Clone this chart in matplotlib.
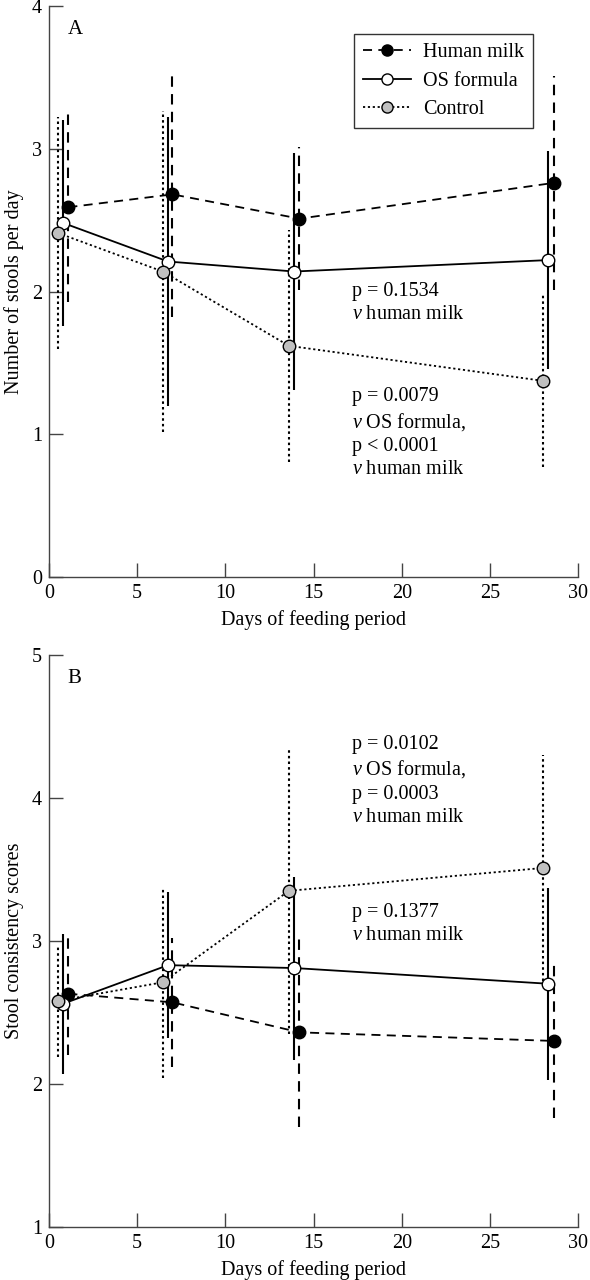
import matplotlib
matplotlib.use("Agg")
import matplotlib.pyplot as plt
from matplotlib.lines import Line2D

plt.rcParams['font.family'] = ['Liberation Serif', 'DejaVu Serif']
plt.rcParams['mathtext.fontset'] = 'custom'
plt.rcParams['mathtext.rm'] = 'Liberation Serif'
plt.rcParams['mathtext.it'] = 'Liberation Serif:italic'
plt.rcParams['font.size'] = 14.5

# datos (dias ligeramente desplazados por grupo, como en el original)
dias_hm = [1.1, 7.0, 14.2, 28.6]
dias_os = [0.8, 6.75, 13.9, 28.3]
dias_ct = [0.5, 6.45, 13.6, 28.0]

# A: numero de deposiciones por dia
a_hm = [2.59, 2.68, 2.51, 2.76]
a_hm_err = [0.66, 0.86, 0.50, 0.75]
a_os = [2.48, 2.21, 2.14, 2.22]
a_os_err = [0.72, 1.01, 0.83, 0.76]
a_ct = [2.41, 2.14, 1.62, 1.375]
a_ct_err = [0.81, 1.12, 0.81, 0.60]

# B: consistencia
b_hm = [2.63, 2.57, 2.36, 2.30]
b_hm_err = [0.43, 0.45, 0.66, 0.54]
b_os = [2.56, 2.83, 2.81, 2.70]
b_os_err = [0.49, 0.51, 0.64, 0.67]
b_ct = [2.58, 2.71, 3.35, 3.51]
b_ct_err = [0.39, 0.67, 1.00, 0.79]

etiquetas = ['Human milk', 'OS formula', 'Control']
DASH = (0, (5, 3.5))
DOT = (0, (1.2, 1.5))

fig = plt.figure(figsize=(5.9, 12.8), dpi=100)
axA = fig.add_axes([0.083, 0.549, 0.897, 0.4465])
axB = fig.add_axes([0.083, 0.0416, 0.897, 0.4467])


def grupo(ax, x, y, err, ls, fc):
    eb = ax.errorbar(x, y, yerr=err, fmt='o', linestyle=ls, color='black',
                     mfc=fc, mec='black', ms=9, mew=1.0, lw=1.3,
                     elinewidth=1.5, capsize=0)
    eb[2][0].set_linestyle(ls)
    return eb


def estilo(ax, ymin, ymax, ylab, letra):
    ax.set_xlim(0, 30)
    ax.set_ylim(ymin, ymax)
    ax.set_xticks([0, 5, 10, 15, 20, 25, 30])
    ax.set_yticks(range(ymin, ymax + 1))
    for s in ['top', 'right']:
        ax.spines[s].set_visible(False)
    for s in ['left', 'bottom']:
        ax.spines[s].set_color('#444444')
        ax.spines[s].set_linewidth(1.0)
    ax.tick_params(direction='in', length=10, width=1.0, color='#444444', pad=5)
    ax.set_xlabel('Days of feeding period', labelpad=5)
    ax.set_ylabel(ylab, labelpad=6)
    ax.text(0.035, 0.975, letra, transform=ax.transAxes, va='top', ha='left', fontsize=15)


grupo(axA, dias_hm, a_hm, a_hm_err, DASH, 'black')
grupo(axA, dias_os, a_os, a_os_err, '-', 'white')
grupo(axA, dias_ct, a_ct, a_ct_err, DOT, '#c0c0c0')
estilo(axA, 0, 4, 'Number of stools per day', 'A')

manejos = [Line2D([], [], color='black', ls=DASH, lw=1.3, marker='o', ms=8, mfc='black', mec='black'),
           Line2D([], [], color='black', ls='-', lw=1.3, marker='o', ms=8, mfc='white', mec='black'),
           Line2D([], [], color='black', ls=DOT, lw=1.3, marker='o', ms=8, mfc='#c0c0c0', mec='black')]
leg = axA.legend(manejos, etiquetas, loc='upper right', bbox_to_anchor=(0.915, 0.95),
                 fancybox=False, edgecolor='#333333', framealpha=1, handlelength=2.4,
                 borderpad=0.45, labelspacing=0.45, handletextpad=0.6, borderaxespad=0)
leg.get_frame().set_linewidth(1.0)

axA.text(17.2, 1.92, 'p = 0.1534\n' + r'$v$' + ' human milk', va='center', ha='left', linespacing=1.3)
axA.text(17.2, 1.01, 'p = 0.0079\n' + r'$v$' + ' OS formula,\np < 0.0001\n' + r'$v$' + ' human milk',
         va='center', ha='left', linespacing=1.3)

grupo(axB, dias_hm, b_hm, b_hm_err, DASH, 'black')
grupo(axB, dias_os, b_os, b_os_err, '-', 'white')
grupo(axB, dias_ct, b_ct, b_ct_err, DOT, '#c0c0c0')
estilo(axB, 1, 5, 'Stool consistency scores', 'B')

axB.text(17.2, 4.12, 'p = 0.0102\n' + r'$v$' + ' OS formula,\np = 0.0003\n' + r'$v$' + ' human milk',
         va='center', ha='left', linespacing=1.3)
axB.text(17.2, 3.12, 'p = 0.1377\n' + r'$v$' + ' human milk', va='center', ha='left', linespacing=1.3)

fig.savefig('out.png', dpi=100, facecolor='white')
